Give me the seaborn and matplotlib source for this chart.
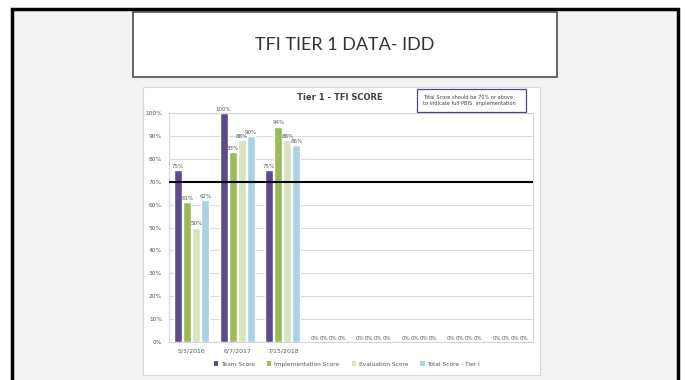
import matplotlib
matplotlib.use("Agg")
import matplotlib.pyplot as plt
from matplotlib.patches import Rectangle, Patch
import seaborn as sns
import pandas as pd

# ---- data ----
categories = ["5/3/2016", "6/7/2017", "7/15/2018", "c4", "c5", "c6", "c7", "c8"]
tick_labels = ["5/3/2016", "6/7/2017", "7/15/2018", "", "", "", "", ""]
series = ["Team Score", "Implementation Score", "Evaluation Score", "Total Score - Tier I"]
team_score = [75, 100, 75, 0, 0, 0, 0, 0]
implementation_score = [61, 83, 94, 0, 0, 0, 0, 0]
evaluation_score = [50, 88, 88, 0, 0, 0, 0, 0]
total_score = [62, 90, 86, 0, 0, 0, 0, 0]
threshold = 70
colors = ["#5e4b8b", "#9bbb59", "#d7e4bd", "#a8d3e3"]

rows = []
for name, vals in zip(series, [team_score, implementation_score, evaluation_score, total_score]):
    for c, v in zip(categories, vals):
        rows.append({"cat": c, "series": name, "value": v})
df = pd.DataFrame(rows)

sns.set_theme(style="white")
W, H = 685, 380
fig = plt.figure(figsize=(W / 100, H / 100), dpi=100)
fig.patch.set_facecolor("white")

def px(x0, y0, x1, y1):
    return (x0 / W, 1 - y1 / H, (x1 - x0) / W, (y1 - y0) / H)

# slide background
l, b, w, h = px(12, 9, 678, 395)
fig.patches.append(Rectangle((l, b), w, h, transform=fig.transFigure,
                             facecolor="#f2f2f2", edgecolor="black", lw=2.5, zorder=0))
# title box
l, b, w, h = px(133, 12, 557, 77)
fig.patches.append(Rectangle((l, b), w, h, transform=fig.transFigure,
                             facecolor="white", edgecolor="#4d4d4d", lw=1.2, zorder=1))
fig.text(345 / W, 1 - 45 / H, "TFI TIER 1 DATA- IDD", ha="center", va="center",
         fontsize=13, family="Lato", color="#333333", zorder=2)
# chart picture background
l, b, w, h = px(143, 87, 540, 375)
fig.patches.append(Rectangle((l, b), w, h, transform=fig.transFigure,
                             facecolor="white", edgecolor="#d9d9d9", lw=0.8, zorder=1))

ax = fig.add_axes(px(169, 113, 533, 342))
ax.set_zorder(3)
sns.barplot(data=df, x="cat", y="value", hue="series", order=categories,
            hue_order=series, palette=colors, width=0.8, gap=0.12,
            ax=ax, legend=False, saturation=1)
ax.set_ylim(0, 100)
ax.set_xlim(-0.5, len(categories) - 0.5)
ax.set_yticks(range(0, 101, 10))
ax.set_yticklabels([f"{v}%" for v in range(0, 101, 10)], fontsize=4.2, color="#595959")
ax.set_xticks(range(len(categories)))
ax.set_xticklabels(tick_labels, fontsize=4.5, color="#595959")
ax.tick_params(axis="both", length=0, pad=5)
ax.set_xlabel("")
ax.set_ylabel("")
ax.grid(axis="y", color="#dcdcdc", lw=0.8)
ax.set_axisbelow(True)
for s in ax.spines.values():
    s.set_color("#d4d4e4")
    s.set_linewidth(0.8)

for cont in ax.containers:
    ax.bar_label(cont, labels=[f"{v:.0f}%" for v in cont.datavalues],
                 fontsize=4.0, color="#595959", padding=1)

ax.axhline(threshold, color="black", lw=1.5, zorder=5)

fig.text(340 / W, 1 - 98 / H, "Tier 1 - TFI SCORE", ha="center", va="center",
         fontsize=6, fontweight="bold", color="#404040", zorder=4)
l, b, w, h = px(417, 89, 526, 112)
fig.patches.append(Rectangle((l, b), w, h, transform=fig.transFigure,
                             facecolor="white", edgecolor="#4b4b7b", lw=0.9, zorder=4))
fig.text(423 / W, 1 - 100.5 / H,
         "Total Score should be 70% or above\nto indicate full PBIS  implementation",
         ha="left", va="center", fontsize=3.6, color="#404040", zorder=5, linespacing=1.4)

handles = [Patch(facecolor=c, edgecolor="none") for c in colors]
fig.legend(handles, series, loc="center", bbox_to_anchor=(347 / W, 1 - 364 / H),
           ncol=4, frameon=False, fontsize=4.2, handlelength=0.7, handleheight=0.7,
           columnspacing=2.1, handletextpad=0.5, labelcolor="#595959")

fig.savefig("out.png", dpi=100, facecolor="white")
